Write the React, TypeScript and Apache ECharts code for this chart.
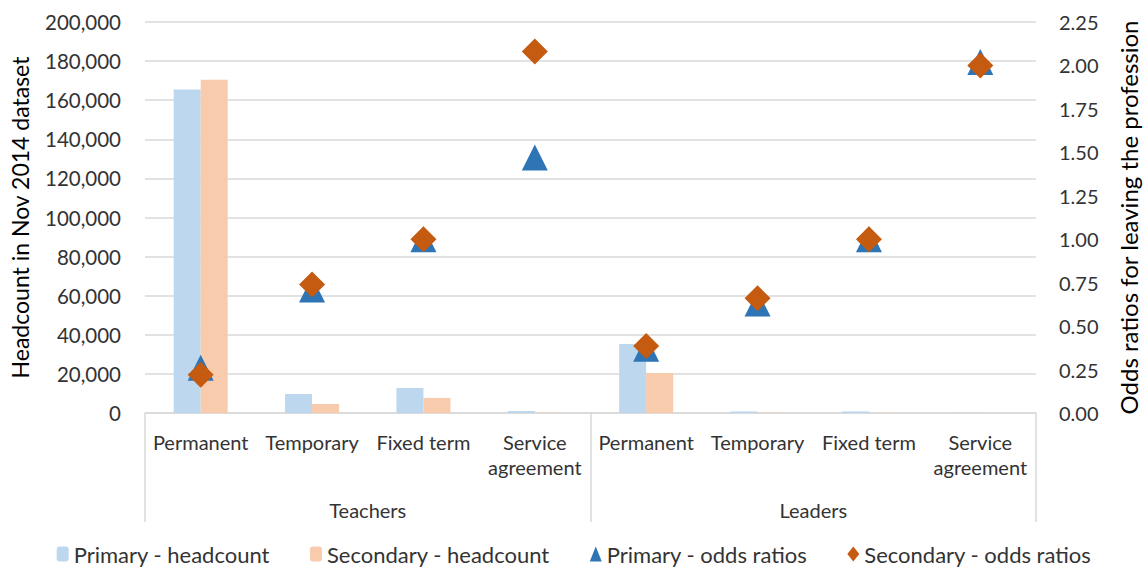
import React, { useEffect, useRef } from "react";
import * as echarts from "echarts";

const categories = [
  "Permanent", "Temporary", "Fixed term", "Service\nagreement",
  "Permanent", "Temporary", "Fixed term", "Service\nagreement",
];
const groups = ["Teachers", "Leaders"];
const primaryHeadcount = [165500, 9700, 12800, 1000, 35300, 800, 800, 100];
const secondaryHeadcount = [170500, 4600, 7700, 200, 20400, 200, 100, 50];
const primaryOdds = [0.26, 0.71, 1.0, 1.47, 0.37, 0.63, 1.0, 2.02];
const secondaryOdds = [0.22, 0.74, 1.0, 2.08, 0.385, 0.66, 1.0, 2.0];
const leftTicks = { min: 0, max: 200000, interval: 20000 };
const rightTicks = { min: 0, max: 2.25, interval: 0.25 };

const FONT = "Lato";
const TXT = "#333333";
const GRID = "#D9D9D9";

export default function App() {
  const ref = useRef<HTMLDivElement>(null);
  useEffect(() => {
    document.body.style.margin = "0";
    const chart = echarts.init(ref.current!, null, { renderer: "svg" });
    chart.setOption({
      animation: false,
      textStyle: { fontFamily: FONT },
      grid: { left: 144, right: 105, top: 22, bottom: 158 },
      legend: {
        bottom: 1,
        left: "center",
        itemGap: 40,
        itemWidth: 12,
        itemHeight: 15,
        textStyle: { fontFamily: FONT, fontSize: 22, color: TXT },
        data: [
          "Primary - headcount",
          "Secondary - headcount",
          "Primary - odds ratios",
          "Secondary - odds ratios",
        ],
      },
      xAxis: [
        {
          type: "category",
          data: categories,
          axisLine: { lineStyle: { color: GRID, width: 1.5 } },
          axisTick: { show: false },
          axisLabel: {
            interval: 0,
            fontSize: 20,
            color: TXT,
            margin: 16,
            lineHeight: 25,
            verticalAlign: "top",
          },
        },
        {
          type: "category",
          data: groups,
          position: "bottom",
          axisLine: { show: false },
          axisTick: { show: true, length: 109, lineStyle: { color: GRID, width: 1.5 } },
          axisLabel: { fontSize: 20, color: TXT, margin: 87 },
          splitLine: { show: false },
        },
      ],
      yAxis: [
        {
          type: "value",
          ...leftTicks,
          name: "Headcount in Nov 2014 dataset",
          nameLocation: "middle",
          nameGap: 114,
          nameTextStyle: { fontSize: 23, color: "#000", fontFamily: FONT },
          axisLine: { show: false },
          axisTick: { show: false },
          axisLabel: {
            fontSize: 20.5,
            color: TXT,
            margin: 24,
            formatter: (v: number) => v.toLocaleString("en-US"),
          },
          splitLine: { lineStyle: { color: GRID, width: 1.5 } },
        },
        {
          type: "value",
          ...rightTicks,
          name: "Odds ratios for leaving the profession",
          nameLocation: "middle",
          nameGap: 80,
          nameRotate: 90,
          nameTextStyle: { fontSize: 24, color: "#000", fontFamily: FONT },
          axisLine: { show: false },
          axisTick: { show: false },
          axisLabel: {
            fontSize: 20,
            color: TXT,
            margin: 23,
            formatter: (v: number) => v.toFixed(2),
          },
          splitLine: { show: false },
        },
      ],
      series: [
        {
          name: "Primary - headcount",
          type: "bar",
          data: primaryHeadcount,
          barWidth: 27,
          barGap: "0%",
          itemStyle: { color: "#BDD7EE" },
        },
        {
          name: "Secondary - headcount",
          type: "bar",
          data: secondaryHeadcount,
          barWidth: 27,
          barGap: "0%",
          itemStyle: { color: "#F8CBAD" },
        },
        {
          name: "Primary - odds ratios",
          type: "scatter",
          yAxisIndex: 1,
          data: primaryOdds,
          symbol: "triangle",
          symbolSize: 26,
          itemStyle: { color: "#2E75B6", opacity: 1 },
        },
        {
          name: "Secondary - odds ratios",
          type: "scatter",
          yAxisIndex: 1,
          data: secondaryOdds,
          symbol: "diamond",
          symbolSize: 26,
          itemStyle: { color: "#C55A11", opacity: 1 },
        },
      ],
    });
    return () => chart.dispose();
  }, []);
  return <div ref={ref} style={{ width: 1148, height: 571 }} />;
}
